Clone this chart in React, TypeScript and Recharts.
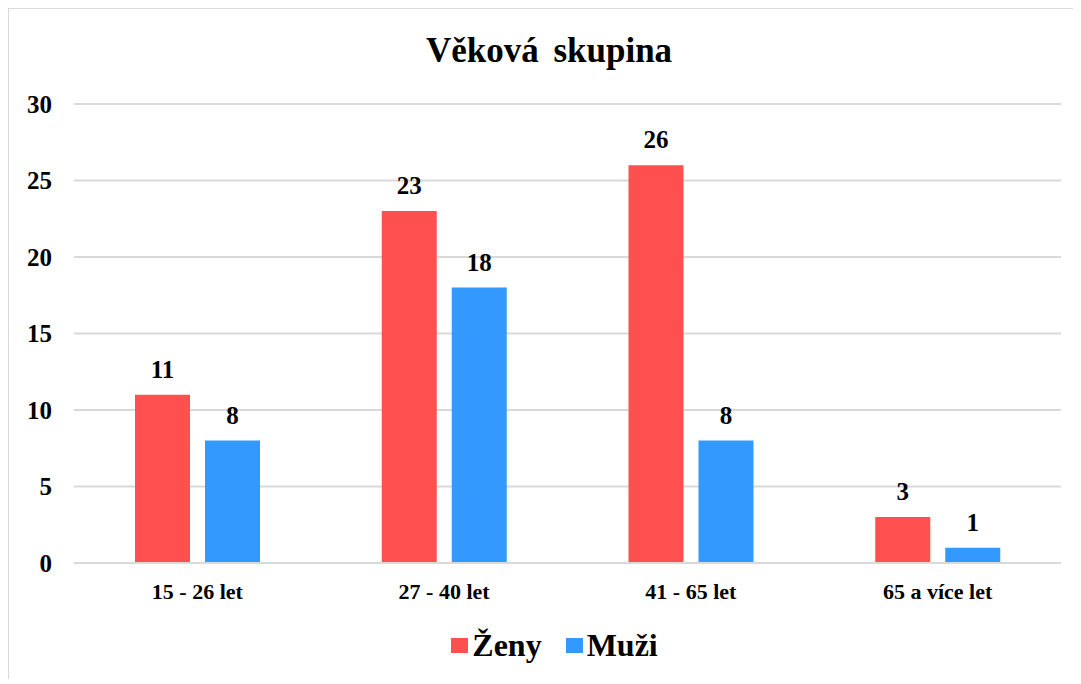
import React from 'react';
import { BarChart, Bar, XAxis, YAxis, CartesianGrid, Legend, LabelList } from 'recharts';

const categories = ['15 - 26 let', '27 - 40 let', '41 - 65 let', '65 a více let'];
const zeny = [11, 23, 26, 3];
const muzi = [8, 18, 8, 1];
const yTicks = [0, 5, 10, 15, 20, 25, 30];
const seriesNames = ['Ženy', 'Muži'];
const colors = ['#FF5050', '#3399FF'];

const data = categories.map((c, i) => ({ name: c, zeny: zeny[i], muzi: muzi[i] }));

const FONT = "'Liberation Serif', 'Times New Roman', Times, serif";

const renderLegend = () => {
  return (
    <div style={{ display: 'flex', justifyContent: 'center', alignItems: 'center', paddingLeft: 20, height: 50 }}>
      {seriesNames.map((n, i) => (
        <div key={n} style={{ display: 'flex', alignItems: 'center', marginRight: i === 0 ? 24 : 0 }}>
          <span style={{ display: 'inline-block', width: 17, height: 15, background: colors[i], marginRight: 4 }} />
          <span style={{ fontFamily: FONT, fontWeight: 'bold', fontSize: 32, color: '#000', lineHeight: '32px' }}>{n}</span>
        </div>
      ))}
    </div>
  );
};

export default function App() {
  return (
    <div style={{ position: 'relative', width: 1073, height: 676, fontFamily: FONT }}>
      <div style={{ position: 'absolute', left: -1, top: -1, width: 1070, height: 670, borderLeft: '2px solid #d9d9d9', borderTop: '2px solid #d9d9d9', pointerEvents: 'none' }} />
      <div style={{ position: 'absolute', left: 0, top: 24, width: 1082, textAlign: 'center', fontFamily: FONT, fontWeight: 'bold', fontSize: 35, wordSpacing: 6, color: '#000', lineHeight: '38px' }}>
        Věková skupina
      </div>
      <BarChart width={1073} height={676} data={data} margin={{ top: 96, right: 20, left: 0, bottom: 41 }} barSize={55} barGap={15}>
        <CartesianGrid vertical={false} stroke="#d9d9d9" strokeWidth={2} />
        <XAxis dataKey="name" axisLine={{ stroke: '#d9d9d9', strokeWidth: 2 }} tickLine={false} tickSize={0} tickMargin={20} height={30}
          tick={{ fill: '#000', fontFamily: FONT, fontWeight: 'bold', fontSize: 22 }} />
        <YAxis domain={[0, 30]} ticks={yTicks} axisLine={false} tickLine={false} tickSize={0} tickMargin={22} width={66}
          tick={{ fill: '#000', fontFamily: FONT, fontWeight: 'bold', fontSize: 25 }} />
        <Legend content={renderLegend} wrapperStyle={{ top: 612, left: 0, width: 1073, height: 50 }} />
        <Bar dataKey="zeny" name={seriesNames[0]} fill={colors[0]} isAnimationActive={false}>
          <LabelList dataKey="zeny" position="top" offset={17} style={{ fill: '#000', fontFamily: FONT, fontWeight: 'bold', fontSize: 25 }} />
        </Bar>
        <Bar dataKey="muzi" name={seriesNames[1]} fill={colors[1]} isAnimationActive={false}>
          <LabelList dataKey="muzi" position="top" offset={17} style={{ fill: '#000', fontFamily: FONT, fontWeight: 'bold', fontSize: 25 }} />
        </Bar>
      </BarChart>
    </div>
  );
}
